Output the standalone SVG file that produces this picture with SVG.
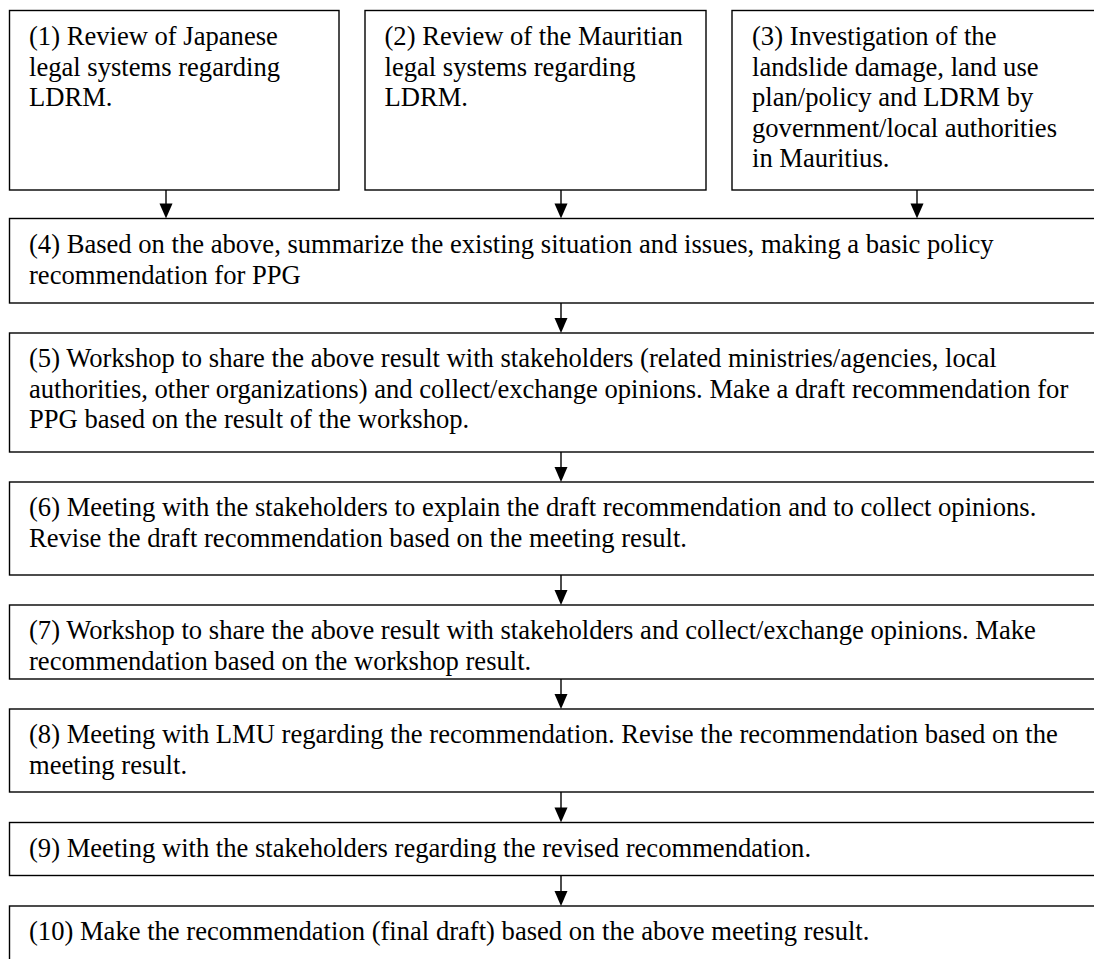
<svg xmlns="http://www.w3.org/2000/svg" width="1094" height="959" viewBox="0 0 1094 959">
<style>
.box{fill:#fff;stroke:#000;stroke-width:1.4}
.t{font-family:"Liberation Serif","Times New Roman",serif;font-size:26.6px;fill:#000}
.c{stroke:#000;stroke-width:1.4;fill:none}
.h{fill:#000;stroke:none}
</style>
<rect width="1094" height="959" fill="#fff"/>
<g id="n1"><rect class="box" x="9.5" y="10.5" width="329.5" height="179.5"/>
<text class="t" x="29" y="45">(1) Review of Japanese</text>
<text class="t" x="29" y="75.5">legal systems regarding</text>
<text class="t" x="29" y="106">LDRM.</text></g>
<g id="n2"><rect class="box" x="365" y="10.5" width="341" height="179.5"/>
<text class="t" x="384.5" y="45">(2) Review of the Mauritian</text>
<text class="t" x="384.5" y="75.5">legal systems regarding</text>
<text class="t" x="384.5" y="106">LDRM.</text></g>
<g id="n3"><rect class="box" x="732" y="10.5" width="380" height="179.5"/>
<text class="t" x="752" y="45">(3) Investigation of the</text>
<text class="t" x="752" y="75.5">landslide damage, land use</text>
<text class="t" x="752" y="106">plan/policy and LDRM by</text>
<text class="t" x="752" y="136.5">government/local authorities</text>
<text class="t" x="752" y="167">in Mauritius.</text></g>
<g id="n4"><rect class="box" x="9.5" y="218.5" width="1102" height="84.5"/>
<text class="t" x="29" y="253">(4) Based on the above, summarize the existing situation and issues, making a basic policy</text>
<text class="t" x="29" y="283.5">recommendation for PPG</text></g>
<g id="n5"><rect class="box" x="9.5" y="333" width="1102" height="119"/>
<text class="t" x="29" y="367">(5) Workshop to share the above result with stakeholders (related ministries/agencies, local</text>
<text class="t" x="29" y="397.5">authorities, other organizations) and collect/exchange opinions. Make a draft recommendation for</text>
<text class="t" x="29" y="428">PPG based on the result of the workshop.</text></g>
<g id="n6"><rect class="box" x="9.5" y="482" width="1102" height="93"/>
<text class="t" x="29" y="516">(6) Meeting with the stakeholders to explain the draft recommendation and to collect opinions.</text>
<text class="t" x="29" y="546.5">Revise the draft recommendation based on the meeting result.</text></g>
<g id="n7"><rect class="box" x="9.5" y="605" width="1102" height="74"/>
<text class="t" x="29" y="639">(7) Workshop to share the above result with stakeholders and collect/exchange opinions. Make</text>
<text class="t" x="29" y="669.5">recommendation based on the workshop result.</text></g>
<g id="n8"><rect class="box" x="9.5" y="709" width="1102" height="83"/>
<text class="t" x="29" y="743">(8) Meeting with LMU regarding the recommendation. Revise the recommendation based on the</text>
<text class="t" x="29" y="773.5">meeting result.</text></g>
<g id="n9"><rect class="box" x="9.5" y="822.5" width="1102" height="53"/>
<text class="t" x="29" y="857">(9) Meeting with the stakeholders regarding the revised recommendation.</text></g>
<g id="n10"><rect class="box" x="9.5" y="906" width="1102" height="80"/>
<text class="t" x="29" y="940">(10) Make the recommendation (final draft) based on the above meeting result.</text></g>
<g id="connectors">
<line class="c" x1="166" y1="190" x2="166" y2="205"/><path class="h" d="M159.5 203.5 L172.5 203.5 L166 218.5 Z"/>
<line class="c" x1="561" y1="190" x2="561" y2="205"/><path class="h" d="M554.5 203.5 L567.5 203.5 L561 218.5 Z"/>
<line class="c" x1="917" y1="190" x2="917" y2="205"/><path class="h" d="M910.5 203.5 L923.5 203.5 L917 218.5 Z"/>
<line class="c" x1="561" y1="303" x2="561" y2="320"/><path class="h" d="M554.5 318 L567.5 318 L561 333 Z"/>
<line class="c" x1="561" y1="452" x2="561" y2="469"/><path class="h" d="M554.5 467 L567.5 467 L561 482 Z"/>
<line class="c" x1="561" y1="575" x2="561" y2="592"/><path class="h" d="M554.5 590 L567.5 590 L561 605 Z"/>
<line class="c" x1="561" y1="679" x2="561" y2="696"/><path class="h" d="M554.5 694 L567.5 694 L561 709 Z"/>
<line class="c" x1="561" y1="792" x2="561" y2="809"/><path class="h" d="M554.5 807.5 L567.5 807.5 L561 822.5 Z"/>
<line class="c" x1="561" y1="875.5" x2="561" y2="893"/><path class="h" d="M554.5 891 L567.5 891 L561 906 Z"/>
</g>
</svg>
